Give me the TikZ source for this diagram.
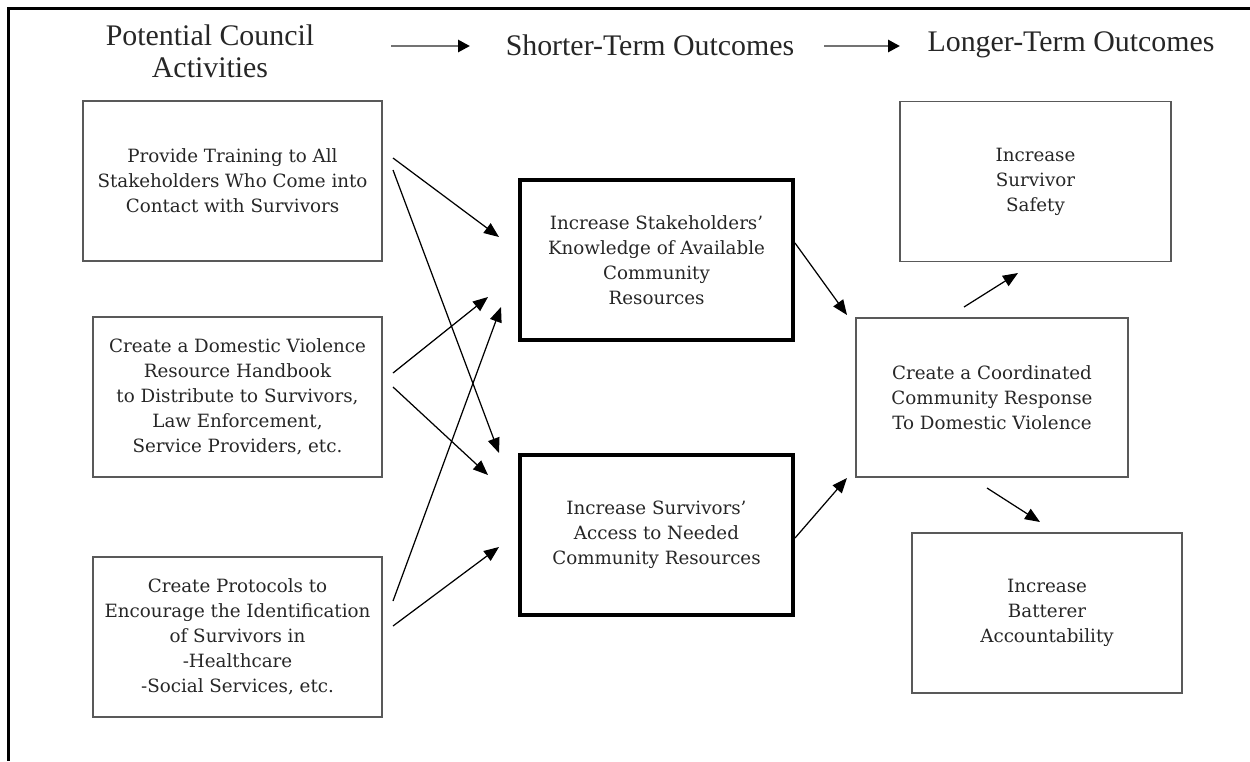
\documentclass[tikz,border=0pt]{standalone}
\usepackage{fontspec}
\setmainfont{DejaVu Serif}
\newfontfamily\headfont{Liberation Serif}
\usetikzlibrary{arrows.meta}

\begin{document}
\begin{tikzpicture}[x=0.2mm,y=-0.2mm,
      actbox/.style={draw=black!65,line width=1.1pt,text=black!85,align=center,
        minimum height=32mm,inner sep=0pt,font={\fontsize{10.4}{14.2}\selectfont}},
      outbox/.style={actbox,draw=black,line width=2.8pt},
      arr/.style={-{Triangle[length=3mm,width=2.4mm]},line width=0.7pt},
      hdarr/.style={-{Triangle[length=2.4mm,width=2.4mm,color=black]},line width=1.6pt,draw=black!55},
      hd/.style={text=black!85,align=center,font={\headfont\fontsize{17}{18.1}\selectfont}}]
      \useasboundingbox (0,0) rectangle (1250,761);
      \draw[line width=1.7pt] (1250,8.5) -- (8.5,8.5) -- (8.5,761);

      % headings
      \node[hd] (h1) at (210,51) {Potential Council\\Activities};
      \node[hd] (h2) at (650,45) {Shorter-Term Outcomes};
      \node[hd] (h3) at (1071,45) {Longer-Term Outcomes};
      \coordinate (h1r) at (391,46); \coordinate (h2l) at (470,46);
      \coordinate (h2r) at (824,46); \coordinate (h3l) at (900,46);
      \draw[hdarr] (h1r) -- (h2l);
      \draw[hdarr] (h2r) -- (h3l);

      % activities
      \node[actbox,minimum width=59.8mm] (a1) at (232.5,181)
        {Provide Training to All\\Stakeholders Who Come into\\Contact with Survivors};
      \node[actbox,minimum width=57.8mm] (a2) at (237.5,397)
        {Create a Domestic Violence\\Resource Handbook\\to Distribute to Survivors,\\Law Enforcement,\\Service Providers, etc.};
      \node[actbox,minimum width=57.8mm] (a3) at (237.5,637)
        {Create Protocols to\\Encourage the Identification\\of Survivors in\\-Healthcare\\-Social Services, etc.};

      % shorter-term
      \node[outbox,minimum width=54.6mm] (s1) at (656.5,260)
        {Increase Stakeholders'\\Knowledge of Available\\Community\\Resources};
      \node[outbox,minimum width=54.6mm] (s2) at (656.5,535)
        {Increase Survivors'\\Access to Needed\\Community Resources};

      % longer-term
      \node[actbox,minimum width=54.2mm] (l1) at (1035.5,181.5) {Increase\\Survivor\\Safety};
      \node[actbox,minimum width=54.4mm,minimum height=31.8mm] (c) at (992,397.5)
        {Create a Coordinated\\Community Response\\To Domestic Violence};
      \node[actbox,minimum width=54mm] (l2) at (1047,613) {Increase\\Batterer\\Accountability};

      % arrow ends
      \coordinate (a1o1) at (393,158); \coordinate (a1o2) at (393,170);
      \coordinate (a2o1) at (393,373); \coordinate (a2o2) at (393,387);
      \coordinate (a3o1) at (393,601); \coordinate (a3o2) at (393,626);
      \coordinate (s1i1) at (499,237); \coordinate (s1i2) at (488,297); \coordinate (s1i3) at (501,307);
      \coordinate (s2i1) at (499,453); \coordinate (s2i2) at (488,475); \coordinate (s2i3) at (499,547);
      \coordinate (s1o) at (795,243); \coordinate (s2o) at (795,538);
      \coordinate (ci1) at (847,315); \coordinate (ci2) at (847,478);
      \coordinate (co1) at (964,307); \coordinate (co2) at (987,488);
      \coordinate (l1i) at (1018,273); \coordinate (l2i) at (1040,522);

      \draw[arr] (a1o1) -- (s1i1);
      \draw[arr] (a1o2) -- (s2i1);
      \draw[arr] (a2o1) -- (s1i2);
      \draw[arr] (a2o2) -- (s2i2);
      \draw[arr] (a3o1) -- (s1i3);
      \draw[arr] (a3o2) -- (s2i3);
      \draw[arr] (s1o) -- (ci1);
      \draw[arr] (s2o) -- (ci2);
      \draw[arr] (co1) -- (l1i);
      \draw[arr] (co2) -- (l2i);
    \end{tikzpicture}
\end{document}
